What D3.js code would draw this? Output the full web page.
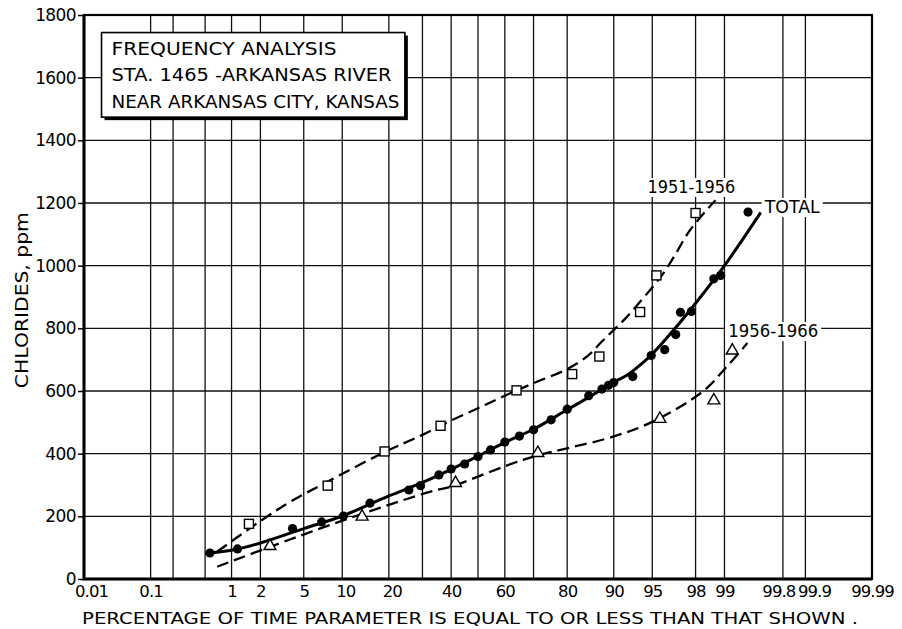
<!DOCTYPE html>
<html>
<head>
<meta charset="utf-8">
<script src="https://cdn.jsdelivr.net/npm/d3@7"></script>
<style>
    body { margin: 0; background: #fff; }
    svg { display: block; font-family: "DejaVu Sans", sans-serif; }
</style>
</head>
<body>
<svg id="data" width="902" height="629"></svg>
<script>

// probability grid (percent)
var gridPct = [0.01, 0.1, 0.2, 0.5, 1, 2, 5, 10, 20, 30, 40, 50, 60, 70, 80, 90, 95, 98, 99, 99.8, 99.9, 99.99];
var tickPct = [0.01, 0.1, 1, 2, 5, 10, 20, 40, 60, 80, 90, 95, 98, 99, 99.8, 99.9, 99.99];
var tickText = ["0.01", "0.1", "1", "2", "5", "10", "20", "40", "60", "80", "90", "95", "98", "99", "99.8", "99.9", "99.99"];
var ppmTicks = [0, 200, 400, 600, 800, 1000, 1200, 1400, 1600, 1800];

// TOTAL - plotted points and fitted curve
var totalPct = [0.57, 1.16, 4.0, 7.0, 10.2, 15.4, 25.7, 29.4, 35.6, 40, 45, 50, 54.7, 60, 65.2, 70, 75.5, 80, 85.2, 87.9, 89.1, 90, 92.8, 94.9, 96.1, 96.9, 97.2, 97.8, 98.7, 98.9, 99.46];
var totalPpm = [83, 96, 161, 182, 201, 242, 284, 298, 332, 351, 367, 391, 412, 437, 456, 476, 508, 542, 585, 606, 618, 627, 646, 713, 732, 780, 851, 854, 958, 969, 1171];
var totalCurvePct = [0.5, 1, 2, 5, 10, 20, 30, 40, 50, 60, 70, 80, 85, 90, 92, 94, 95, 97, 98, 99, 99.62];
var totalCurvePpm = [82, 92, 115, 161, 201, 265, 308, 350, 392, 436, 478, 540, 578, 628, 650, 690, 718, 808, 880, 1000, 1170];

// 1951-1956
var earlyPct = [1.53, 7.8, 18.9, 36.2, 64.2, 81.3, 87.4, 93.7, 95.4, 98.0];
var earlyPpm = [176, 298, 407, 489, 602, 654, 710, 852, 969, 1168];
var earlyCurvePct = [0.69, 2, 3.85, 7.8, 18.9, 30, 40, 50, 60, 70, 80, 85, 87.6, 90, 91.6, 95.9, 96.8, 97.75, 98.75];
var earlyCurvePpm = [87, 185, 247, 311, 405, 460, 506, 545, 585, 625, 670, 712, 753, 795, 827, 971, 1030, 1115, 1209];

// 1956-1966
var latePct = [2.48, 13.7, 41.6, 71.4, 95.7, 98.7, 99.18];
var latePpm = [105, 199, 306, 402, 511, 570, 729];
var lateCurvePct = [0.69, 2.5, 10.3, 32.7, 40, 60, 71.4, 80, 90, 95.1, 98.3, 99.06, 99.45];
var lateCurvePpm = [39, 103, 188, 279, 295, 360, 395, 417, 455, 503, 598, 678, 753];

var boxLines = ["FREQUENCY  ANALYSIS", "STA. 1465 -ARKANSAS RIVER", "NEAR ARKANSAS CITY, KANSAS"];


var draw = {

    // inverse normal cdf (Acklam)
    probit: function (p) {
        var a = [-3.969683028665376e+01, 2.209460984245205e+02, -2.759285104469687e+02, 1.383577518672690e+02, -3.066479806614716e+01, 2.506628277459239e+00];
        var b = [-5.447609879822406e+01, 1.615858368580409e+02, -1.556989798598866e+02, 6.680131188771972e+01, -1.328068155288572e+01];
        var c = [-7.784894002430293e-03, -3.223964580411365e-01, -2.400758277161838e+00, -2.549732539343734e+00, 4.374664141464968e+00, 2.938163982698783e+00];
        var d = [7.784695709041462e-03, 3.224671290700398e-01, 2.445134137142996e+00, 3.754408661907416e+00];
        var plow = 0.02425, q, r;
        if (p < plow) {
            q = Math.sqrt(-2 * Math.log(p));
            return (((((c[0]*q+c[1])*q+c[2])*q+c[3])*q+c[4])*q+c[5]) / ((((d[0]*q+d[1])*q+d[2])*q+d[3])*q+1);
        }
        if (p <= 1 - plow) {
            q = p - 0.5; r = q * q;
            return (((((a[0]*r+a[1])*r+a[2])*r+a[3])*r+a[4])*r+a[5])*q / (((((b[0]*r+b[1])*r+b[2])*r+b[3])*r+b[4])*r+1);
        }
        q = Math.sqrt(-2 * Math.log(1 - p));
        return -(((((c[0]*q+c[1])*q+c[2])*q+c[3])*q+c[4])*q+c[5]) / ((((d[0]*q+d[1])*q+d[2])*q+d[3])*q+1);
    },

    zip: function (xs, ys) {
        return xs.map(function (v, i) { return {p: v, v: ys[i]}; });
    },

    index: function () {
        var margin = {top: 15, right: 30, bottom: 50, left: 84},
            width = 872 - margin.left,
            height = 579 - margin.top;

        var svg = d3.select("#data");

        var z = d3.scaleLinear()
            .domain([draw.probit(0.0001), draw.probit(0.9999)])
            .range([margin.left, margin.left + width]);
        var x = function (pct) { return z(draw.probit(pct / 100)); };
        var y = d3.scaleLinear()
            .domain([0, 1800])
            .range([margin.top + height, margin.top]);

        // grid
        var grid = svg.append("g").attr("stroke", "#111").attr("stroke-width", 1.3);
        grid.selectAll("line.v")
            .data(gridPct)
            .enter().append("line")
            .attr("x1", function (d) { return x(d); })
            .attr("x2", function (d) { return x(d); })
            .attr("y1", y(1800))
            .attr("y2", y(0));
        grid.selectAll("line.h")
            .data(ppmTicks)
            .enter().append("line")
            .attr("x1", x(0.01))
            .attr("x2", x(99.99))
            .attr("y1", function (d) { return y(d); })
            .attr("y2", function (d) { return y(d); });

        // frame
        svg.append("rect")
            .attr("x", x(0.01)).attr("y", y(1800))
            .attr("width", x(99.99) - x(0.01)).attr("height", y(0) - y(1800))
            .attr("fill", "none").attr("stroke", "#000").attr("stroke-width", 2.2);
        svg.append("path")
            .attr("d", "M" + x(0.01) + "," + y(1800) + "V" + y(0) + "H" + x(99.99))
            .attr("fill", "none").attr("stroke", "#000").attr("stroke-width", 3);

        // y axis
        var yAxis = svg.append("g")
            .attr("transform", "translate(" + x(0.01) + ",0)")
            .call(d3.axisLeft(y).tickValues(ppmTicks).tickSize(6).tickPadding(2).tickFormat(d3.format("d")));
        yAxis.select(".domain").remove();
        yAxis.selectAll("line").attr("stroke", "#000").attr("stroke-width", 1.5);
        yAxis.selectAll("text").attr("font-size", 17).attr("fill", "#000")
            .attr("font-family", "DejaVu Sans").attr("letter-spacing", "-0.6");

        // x axis (probability)
        var xAxis = svg.append("g")
            .attr("transform", "translate(0," + y(0) + ")")
            .call(d3.axisBottom(z)
                .tickValues(tickPct.map(function (d) { return draw.probit(d / 100); }))
                .tickSize(0).tickPadding(6)
                .tickFormat(function (d, i) { return tickText[i]; }));
        xAxis.select(".domain").remove();
        xAxis.selectAll("text").attr("font-size", 16.5).attr("fill", "#000")
            .attr("font-family", "DejaVu Sans").attr("letter-spacing", "-0.9")
            .attr("text-anchor", function (d, i) {
                if (tickText[i] === "99.8") return "end";
                if (tickText[i] === "99.9") return "start";
                return "middle";
            })
            .attr("dx", function (d, i) {
                if (tickText[i] === "0.01") return 7;
                if (tickText[i] === "99.8") return 12;
                if (tickText[i] === "99.9") return -8;
                if (tickText[i] === "10" || tickText[i] === "20") return 3;
                return 0;
            });

        // axis titles
        svg.append("text")
            .attr("transform", "translate(28," + y(890) + ") rotate(-90)")
            .attr("text-anchor", "middle")
            .attr("font-size", 17)
            .attr("textLength", 176).attr("lengthAdjust", "spacingAndGlyphs")
            .text("CHLORIDES, ppm");
        svg.append("text")
            .attr("x", 82).attr("y", 624)
            .attr("font-size", 16)
            .attr("textLength", 776).attr("lengthAdjust", "spacingAndGlyphs")
            .text("PERCENTAGE  OF  TIME  PARAMETER  IS  EQUAL  TO  OR  LESS  THAN  THAT  SHOWN .");

        // title box with shadow
        var bx = x(0.019), by = y(1744), bw = x(24.5) - bx, bh = y(1474) - by;
        svg.append("rect")
            .attr("x", bx + 3).attr("y", by + 3).attr("width", bw).attr("height", bh)
            .attr("fill", "#000");
        svg.append("rect")
            .attr("x", bx).attr("y", by).attr("width", bw).attr("height", bh)
            .attr("fill", "#fff").attr("stroke", "#000").attr("stroke-width", 1.6);
        var boxWidths = [225, 280, 288];
        svg.selectAll("text.box")
            .data(boxLines)
            .enter().append("text")
            .attr("x", bx + 10)
            .attr("y", function (d, i) { return by + 22 + i * 26.5; })
            .attr("font-size", 17.5)
            .attr("textLength", function (d, i) { return boxWidths[i]; })
            .attr("lengthAdjust", "spacingAndGlyphs")
            .text(function (d) { return d; });

        // curves
        var line = d3.line()
            .x(function (d) { return x(d.p); })
            .y(function (d) { return y(d.v); })
            .curve(d3.curveCatmullRom.alpha(0.5));

        svg.append("path")
            .datum(draw.zip(earlyCurvePct, earlyCurvePpm))
            .attr("d", line)
            .attr("fill", "none").attr("stroke", "#000").attr("stroke-width", 2.3)
            .attr("stroke-dasharray", "12,6");
        svg.append("path")
            .datum(draw.zip(lateCurvePct, lateCurvePpm))
            .attr("d", line)
            .attr("fill", "none").attr("stroke", "#000").attr("stroke-width", 2.3)
            .attr("stroke-dasharray", "12,6");
        svg.append("path")
            .datum(draw.zip(totalCurvePct, totalCurvePpm))
            .attr("d", line)
            .attr("fill", "none").attr("stroke", "#000").attr("stroke-width", 3);

        // points
        svg.append("g").selectAll("circle")
            .data(draw.zip(totalPct, totalPpm))
            .enter().append("circle")
            .attr("cx", function (d) { return x(d.p); })
            .attr("cy", function (d) { return y(d.v); })
            .attr("r", 4.6)
            .attr("fill", "#000");

        svg.append("g").selectAll("rect")
            .data(draw.zip(earlyPct, earlyPpm))
            .enter().append("rect")
            .attr("x", function (d) { return x(d.p) - 4.5; })
            .attr("y", function (d) { return y(d.v) - 4.5; })
            .attr("width", 9).attr("height", 9)
            .attr("fill", "#fff").attr("stroke", "#000").attr("stroke-width", 1.4);

        var tri = d3.symbol().type(d3.symbolTriangle).size(62);
        svg.append("g").selectAll("path")
            .data(draw.zip(latePct, latePpm))
            .enter().append("path")
            .attr("d", tri)
            .attr("transform", function (d) { return "translate(" + x(d.p) + "," + y(d.v) + ")"; })
            .attr("fill", "#fff").attr("stroke", "#000").attr("stroke-width", 1.4);

        // series labels
        var labels = [
            {t: "1951-1956", p: 97.8, v: 1232, anchor: "middle", w: 88},
            {t: "TOTAL", p: 99.66, v: 1168, anchor: "start", w: 55},
            {t: "1956-1966", p: 99.09, v: 772, anchor: "start", w: 90}
        ];
        labels.forEach(function (l) {
            var lx = x(l.p), ly = y(l.v);
            var left = l.anchor === "middle" ? lx - l.w / 2 : lx;
            svg.append("rect")
                .attr("x", left - 3).attr("y", ly - 15)
                .attr("width", l.w + 6).attr("height", 19)
                .attr("fill", "#fff");
            svg.append("text")
                .attr("x", lx).attr("y", ly)
                .attr("text-anchor", l.anchor)
                .attr("font-size", 17)
                .attr("textLength", l.w).attr("lengthAdjust", "spacingAndGlyphs")
                .text(l.t);
        });
    }
};

draw.index();
</script>
</body>
</html>
